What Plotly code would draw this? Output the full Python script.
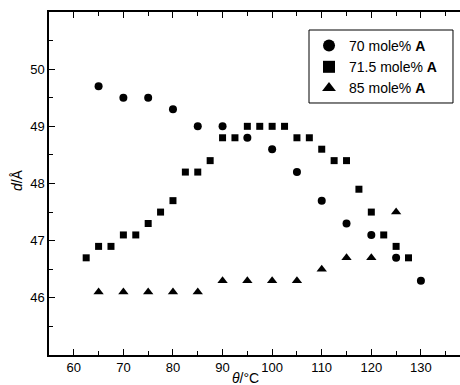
import plotly.graph_objects as go

# Data
temp_70 = [65, 70, 75, 80, 85, 90, 95, 100, 105, 110, 115, 120, 125, 130]
d_70 = [49.7, 49.5, 49.5, 49.3, 49.0, 49.0, 48.8, 48.6, 48.2, 47.7, 47.3, 47.1, 46.7, 46.3]

temp_715 = [62.5, 65, 67.5, 70, 72.5, 75, 77.5, 80, 82.5, 85, 87.5, 90, 92.5, 95,
            97.5, 100, 102.5, 105, 107.5, 110, 112.5, 115, 117.5, 120, 122.5, 125, 127.5]
d_715 = [46.7, 46.9, 46.9, 47.1, 47.1, 47.3, 47.5, 47.7, 48.2, 48.2, 48.4, 48.8, 48.8, 49.0,
         49.0, 49.0, 49.0, 48.8, 48.8, 48.6, 48.4, 48.4, 47.9, 47.5, 47.1, 46.9, 46.7]

temp_85 = [65, 70, 75, 80, 85, 90, 95, 100, 105, 110, 115, 120, 125]
d_85 = [46.1, 46.1, 46.1, 46.1, 46.1, 46.3, 46.3, 46.3, 46.3, 46.5, 46.7, 46.7, 47.5]

names = ["70 mole% <b>A</b>", "71.5 mole% <b>A</b>", "85 mole% <b>A</b>"]
x_ticks = [60, 70, 80, 90, 100, 110, 120, 130]
y_ticks = [46, 47, 48, 49, 50]

FONT = "Liberation Sans, Arial, sans-serif"

fig = go.Figure()
fig.add_trace(go.Scatter(x=temp_70, y=d_70, mode="markers", name=names[0],
                         marker=dict(symbol="circle", size=8, color="black")))
fig.add_trace(go.Scatter(x=temp_715, y=d_715, mode="markers", name=names[1],
                         marker=dict(symbol="square", size=7, color="black")))
fig.add_trace(go.Scatter(x=temp_85, y=d_85, mode="markers", name=names[2],
                         marker=dict(symbol="triangle-up", size=9, color="black")))

fig.update_layout(
    width=470, height=385,
    margin=dict(l=49, r=0, t=12, b=30),
    paper_bgcolor="white", plot_bgcolor="white",
    font=dict(family=FONT, size=13, color="black"),
    showlegend=True,
    legend=dict(x=0.6176, y=0.9475, xanchor="left", yanchor="top",
                borderwidth=0, bgcolor="rgba(0,0,0,0)",
                font=dict(family=FONT, size=14, color="black"),
                itemsizing="constant", tracegroupgap=0),
    shapes=[dict(type="rect", xref="paper", yref="paper",
                 x0=0.6176, x1=0.9596, y0=0.7347, y1=0.9475,
                 line=dict(color="black", width=1), fillcolor="white", layer="below")],
    xaxis=dict(range=[55, 139.9], tickvals=x_ticks, ticks="inside", ticklen=6,
               tickwidth=1, tickcolor="black", showline=True, linecolor="black",
               linewidth=1.5, mirror="allticks", showgrid=False, zeroline=False,
               minor=dict(dtick=5, tick0=0, ticks="inside", ticklen=4, tickcolor="black", showgrid=False),
               tickfont=dict(size=13)),
    yaxis=dict(range=[45, 51], tickvals=y_ticks, ticks="inside", ticklen=6,
               tickwidth=1, tickcolor="black", showline=True, linecolor="black",
               linewidth=1.5, mirror=False, showgrid=False, zeroline=False,
               minor=dict(dtick=0.5, tick0=45, ticks="inside", ticklen=4, tickcolor="black", showgrid=False),
               tickfont=dict(size=13)),
    annotations=[
        dict(text="<i>d</i>/Å", xref="paper", yref="paper", x=-0.076, y=0.51,
             xanchor="center", yanchor="middle", textangle=-90, showarrow=False,
             font=dict(family=FONT, size=14, color="black")),
        dict(text="<i>θ</i>/°C", xref="paper", yref="paper", x=0.4656, y=-0.067,
             xanchor="center", yanchor="middle", showarrow=False,
             font=dict(family=FONT, size=14, color="black")),
    ],
)

fig.write_html("out.html", config={"displayModeBar": False},
               post_script="document.body.style.margin='0';document.body.style.overflow='hidden';")
